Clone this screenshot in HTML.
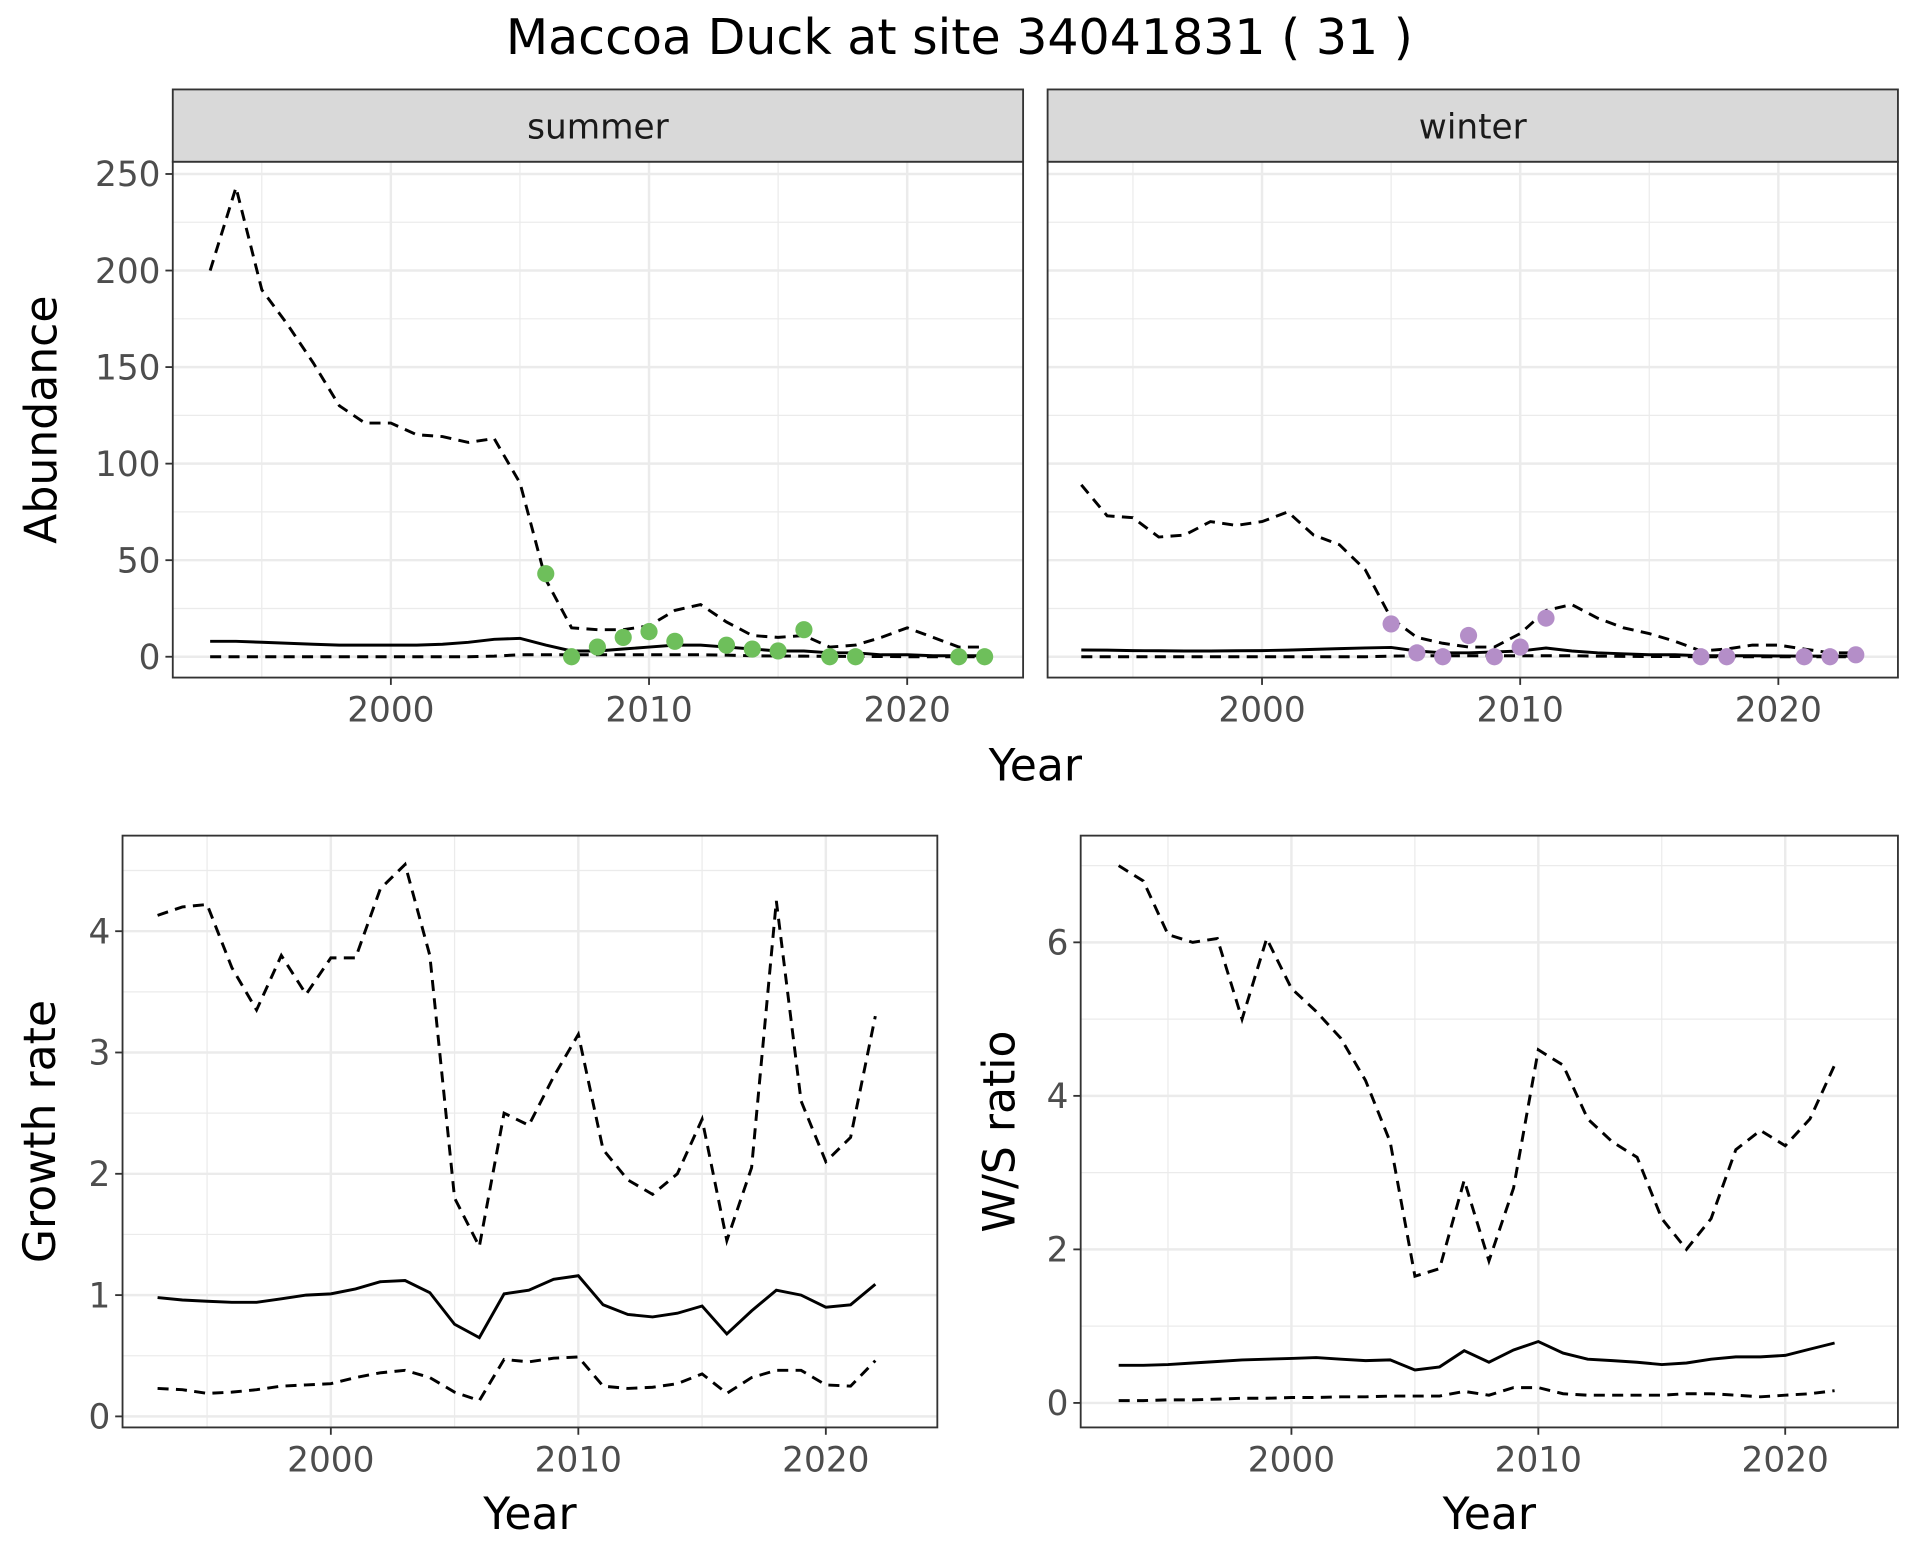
<!DOCTYPE html>
<html><head><meta charset="utf-8"><style>html,body{margin:0;padding:0;background:#fff}svg{display:block}</style></head>
<body>
<svg id="chart" xmlns="http://www.w3.org/2000/svg" width="1920" height="1560" viewBox="0 0 1567 1273.2" font-family="'DejaVu Sans','Liberation Sans',sans-serif">
<rect width="1567" height="1273.2" fill="#fff"/>
<text x="783" y="44" font-size="40" text-anchor="middle" fill="#000">Maccoa Duck at site 34041831 ( 31 )</text>
</svg>
<script>
const years = [1993,1994,1995,1996,1997,1998,1999,2000,2001,2002,2003,2004,2005,2006,2007,2008,2009,2010,2011,2012,2013,2014,2015,2016,2017,2018,2019,2020,2021,2022,2023];
const sumUpper = [200,243,190,172,152,130,121,121,115,114,111,113,90,40,15,14,14,16,24,27,18,11,10,11,5,6,10,15,10,5,5];
const sumMean = [8,8,7.5,7,6.5,6,6,6,6,6.5,7.5,9,9.5,6,3,3,4,5,6,6,5,4,3,3,2,2,1,1,0.5,0.5,0.5];
const sumLower = [0,0,0,0,0,0,0,0,0,0,0,0.3,1,1,1,1,1,1,1,1,0.8,0.5,0.4,0.3,0.2,0.1,0.1,0,0,0,0];
const sumPtYears = [2006,2007,2008,2009,2010,2011,2013,2014,2015,2016,2017,2018,2022,2023];
const sumPtVals = [43,0,5,10,13,8,6,4,3,14,0,0,0,0];
const winUpper = [89,73,72,62,63,70,68,70,75,63,58,45,20,10,7,5,5,12,24,27,20,15,12,8,3,4,6,6,4,2,2];
const winMean = [3.5,3.4,3.2,3.1,3,3,3.1,3.2,3.4,3.8,4.2,4.6,4.8,3,2,2,2.5,3,4.5,3,2,1.5,1,1,0.5,0.5,0.5,0.4,0.3,0.3,0.3];
const winLower = [0,0,0,0,0,0,0,0,0,0,0,0,0.3,0.5,0.5,0.5,0.5,0.5,0.5,0.5,0.3,0.2,0.1,0.1,0,0,0,0,0,0,0];
const winPtYears = [2005,2006,2007,2008,2009,2010,2011,2017,2018,2021,2022,2023];
const winPtVals = [17,2,0,11,0,5,20,0,0,0,0,1];
const gYears = years.slice(0,30);
const grUpper = [4.13,4.2,4.22,3.7,3.35,3.8,3.48,3.78,3.78,4.35,4.55,3.8,1.8,1.4,2.5,2.4,2.8,3.15,2.2,1.95,1.83,2.0,2.45,1.45,2.05,4.25,2.6,2.1,2.3,3.3];
const grMean = [0.98,0.96,0.95,0.94,0.94,0.97,1.0,1.01,1.05,1.11,1.12,1.02,0.76,0.65,1.01,1.04,1.13,1.16,0.92,0.84,0.82,0.85,0.91,0.68,0.87,1.04,1.0,0.9,0.92,1.09];
const grLower = [0.23,0.22,0.19,0.2,0.22,0.25,0.26,0.27,0.32,0.36,0.38,0.32,0.2,0.13,0.47,0.45,0.48,0.49,0.25,0.23,0.24,0.27,0.35,0.19,0.32,0.38,0.38,0.26,0.25,0.46];
const wsUpper = [7.0,6.8,6.1,6.0,6.05,5.0,6.05,5.4,5.1,4.75,4.2,3.4,1.65,1.75,2.9,1.85,2.8,4.6,4.4,3.7,3.4,3.2,2.4,2.0,2.4,3.3,3.55,3.35,3.7,4.4];
const wsMean = [0.49,0.49,0.5,0.52,0.54,0.56,0.57,0.58,0.59,0.57,0.55,0.56,0.43,0.47,0.68,0.53,0.69,0.8,0.65,0.57,0.55,0.53,0.5,0.52,0.57,0.6,0.6,0.62,0.7,0.78];
const wsLower = [0.03,0.03,0.04,0.04,0.05,0.06,0.06,0.07,0.07,0.08,0.08,0.09,0.09,0.09,0.15,0.1,0.2,0.2,0.12,0.1,0.1,0.1,0.1,0.12,0.12,0.1,0.08,0.1,0.12,0.16];
const xTicks = [2000,2010,2020];
const abTicks = [0,50,100,150,200,250];
const grTicks = [0,1,2,3,4];
const wsTicks = [0,2,4,6];

const NS='http://www.w3.org/2000/svg';
const svg=document.getElementById('chart');
const TICK=28, AXT=36;
function el(tag,attrs,parent){const e=document.createElementNS(NS,tag);for(const k in attrs)e.setAttribute(k,attrs[k]);(parent||svg).appendChild(e);return e;}

function panel(name,p){
  const g=el('g',{});
  
  
  const sx=v=>p.x0+(v-p.xv0)*p.xs;
  const sy=v=>p.y0-(v-p.yv0)*p.ys;
  el('rect',{x:p.L,y:p.T,width:p.R-p.L,height:p.B-p.T,fill:'#fff'},g);
  for(let i=0;i<p.yt.length;i++){const v=p.yt[i]+p.ystep/2;const y=sy(v);if(y>p.T&&y<p.B)el('line',{x1:p.L,x2:p.R,y1:y,y2:y,stroke:'#ebebeb','stroke-width':1},g);}
  [1995,2005,2015].forEach(v=>{el('line',{x1:sx(v),x2:sx(v),y1:p.T,y2:p.B,stroke:'#ebebeb','stroke-width':1},g);});
  p.yt.forEach(v=>{const y=sy(v);el('line',{x1:p.L,x2:p.R,y1:y,y2:y,stroke:'#ebebeb','stroke-width':2},g);});
  xTicks.forEach(v=>{el('line',{x1:sx(v),x2:sx(v),y1:p.T,y2:p.B,stroke:'#ebebeb','stroke-width':2},g);});
  const line=(xs,ys,dash,nm)=>{const d=xs.map((x,i)=>(i?'L':'M')+sx(x).toFixed(1)+','+sy(ys[i]).toFixed(1)).join('');
    const pth=el('path',{d:d,fill:'none',stroke:'#000','stroke-width':2.4},g);if(dash)pth.setAttribute('stroke-dasharray','9,6');
    };
  line(p.xs_,p.up,true,name+'-upper-line');
  line(p.xs_,p.lo,true,name+'-lower-line');
  line(p.xs_,p.mean,false,name+'-mean-line');
  if(p.px){p.px.forEach((x,i)=>{const c=el('circle',{cx:sx(x),cy:sy(p.pv[i]),r:7,fill:p.pc},g);
    });}
  el('rect',{x:p.L,y:p.T,width:p.R-p.L,height:p.B-p.T,fill:'none',stroke:'#333','stroke-width':1.5},g);
  if(p.showY){p.yt.forEach(v=>{const y=sy(v);el('line',{x1:p.L-6,x2:p.L,y1:y,y2:y,stroke:'#333','stroke-width':1.5},g);
    const t=el('text',{x:p.L-10,y:y+10,'font-size':TICK,'text-anchor':'end',fill:'#4d4d4d'},g);t.textContent=v;
    });}
  xTicks.forEach(v=>{const x=sx(v);el('line',{x1:x,x2:x,y1:p.B,y2:p.B+6,stroke:'#333','stroke-width':1.5},g);
    const t=el('text',{x:x,y:p.B+36,'font-size':TICK,'text-anchor':'middle',fill:'#4d4d4d'},g);t.textContent=v;
    });
  if(p.strip){const s=el('rect',{x:p.L,y:p.T-59,width:p.R-p.L,height:59,fill:'#d9d9d9',stroke:'#333','stroke-width':1.5},g);
    
    const t=el('text',{x:(p.L+p.R)/2,y:p.T-19,'font-size':TICK,'text-anchor':'middle',fill:'#1a1a1a'},g);t.textContent=p.strip;}
  if(p.xtitle){const t=el('text',{x:(p.L+p.R)/2,y:p.B+83,'font-size':AXT,'text-anchor':'middle',fill:'#000'},g);t.textContent='Year';
    }
  if(p.ytitle){const cy=(p.T+p.B)/2;const t=el('text',{x:p.ytx,y:cy,'font-size':AXT,'text-anchor':'middle',fill:'#000',transform:`rotate(-90 ${p.ytx} ${cy})`},g);t.textContent=p.ytitle;
    }
}
panel('summer-panel',{L:141,R:835,T:132,B:553,x0:319,xv0:2000,xs:21.07,y0:536,yv0:0,ys:1.576,yt:abTicks,ystep:50,
  xs_:years,up:sumUpper,mean:sumMean,lo:sumLower,px:sumPtYears,pv:sumPtVals,pc:'#6ebf5b',showY:true,strip:'summer',ytitle:'Abundance',ytx:46});
panel('winter-panel',{L:855,R:1549,T:132,B:553,x0:1030,xv0:2000,xs:21.07,y0:536,yv0:0,ys:1.576,yt:abTicks,ystep:50,
  xs_:years,up:winUpper,mean:winMean,lo:winLower,px:winPtYears,pv:winPtVals,pc:'#b48ec8',showY:false,strip:'winter'});
const yr=el('text',{x:845,y:637,'font-size':AXT,'text-anchor':'middle',fill:'#000'});yr.textContent='Year';


panel('growth-rate-panel',{L:100,R:765,T:682,B:1165,x0:270,xv0:2000,xs:20.2,y0:1156,yv0:0,ys:99,yt:grTicks,ystep:1,
  xs_:gYears,up:grUpper,mean:grMean,lo:grLower,showY:true,xtitle:true,ytitle:'Growth rate',ytx:45});
panel('ws-ratio-panel',{L:882,R:1549,T:682,B:1165,x0:1054,xv0:2000,xs:20.15,y0:1145,yv0:0,ys:62.65,yt:wsTicks,ystep:2,
  xs_:gYears,up:wsUpper,mean:wsMean,lo:wsLower,showY:true,xtitle:true,ytitle:'W/S ratio',ytx:828});
</script>
</body></html>
